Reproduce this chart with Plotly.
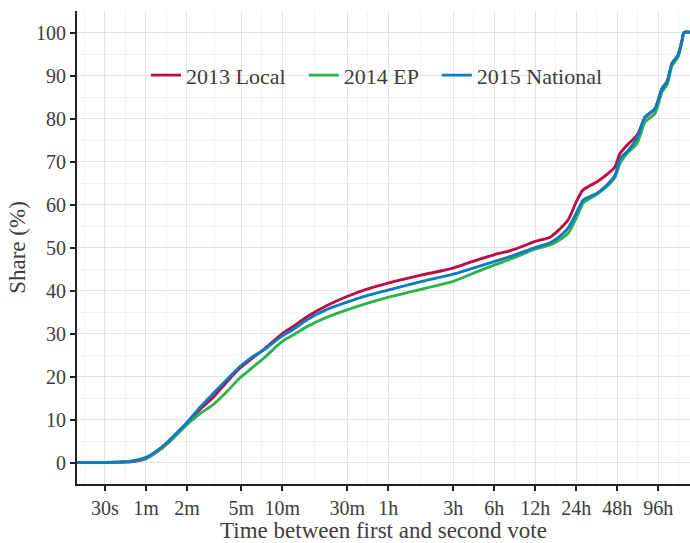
import plotly.graph_objects as go

# Time between first and second vote, in seconds (shared grid for all three elections)
seconds = [16.6, 30, 42, 50, 60, 71, 86, 101, 120, 149, 189, 236, 294, 360, 441,
           598, 745, 913, 1280, 1794, 2517, 3590, 6165, 10770, 15110, 21540, 30720,
           43080, 55530, 62490, 75270, 87600, 97000, 122900, 153100, 166600, 181300,
           204100, 241600, 276700, 327700, 368700, 401100, 436500, 483300, 517200,
           534900, 644100]

# Cumulative share of second votes (%)
local_2013 = [0, 0, 0.1, 0.3, 0.9, 2.3, 4.4, 6.6, 9.1, 12.3, 15.3, 18.8, 22.0, 24.2, 26.3,
              29.9, 31.9, 33.9, 36.5, 38.6, 40.3, 41.7, 43.5, 45.2, 46.8, 48.3, 49.6,
              51.4, 52.4, 53.7, 56.4, 61.0, 63.4, 65.3, 67.6, 68.8, 71.9,
              73.8, 76.1, 80.2, 82.3, 87.0, 88.5, 92.8, 94.7, 98.2,
              100, 100]
ep_2014 = [0, 0, 0.1, 0.4, 1.0, 2.4, 4.5, 6.5, 8.8, 11.3, 13.6, 16.5, 19.7, 22.0, 24.3,
           28.1, 29.9, 31.6, 33.8, 35.5, 37.0, 38.4, 40.2, 42.1, 44.0, 45.9, 47.7,
           49.6, 50.6, 51.4, 53.3, 57.2, 60.3, 62.4, 64.9, 66.4, 69.6,
           71.9, 74.2, 79.2, 81.2, 86.2, 87.8, 92.3, 94.3, 98.0,
           100, 100]
national_2015 = [0, 0, 0.2, 0.5, 1.2, 2.6, 4.7, 6.9, 9.3, 12.8, 16.2, 19.3, 22.3, 24.5, 26.2,
                 29.4, 31.2, 33.2, 35.6, 37.3, 38.8, 40.1, 42.0, 43.8, 45.2, 46.7, 48.3,
                 50.0, 51.1, 52.1, 54.5, 58.3, 61.0, 62.6, 65.3, 66.8, 70.7,
                 72.3, 75.4, 80.4, 82.3, 87.0, 88.5, 92.8, 94.7, 98.2,
                 100, 100]

series_names = ["2013 Local", "2014 EP", "2015 National"]
series_colors = ["#BF0A46", "#2DB24C", "#0B7CC4"]

tick_seconds = [30, 60, 120, 300, 600, 1800, 3600, 10800, 21600, 43200, 86400, 172800, 345600]
tick_labels = ["30s", "1m", "2m", "5m", "10m", "30m", "1h", "3h", "6h", "12h", "24h", "48h", "96h"]

# minor gridlines sit halfway (in log space) between neighbouring breaks
ext = [15] + tick_seconds + [691200]
minor_x = [(a * b) ** 0.5 for a, b in zip(ext[:-1], ext[1:])]

FONT = "Liberation Serif"
TEXT = "#3d3d3d"

# one legend box per series so the key entries are spaced like a ggplot key row
legend_ids = ["legend", "legend2", "legend3"]
legend_x = [0.1125, 0.370, 0.587]

fig = go.Figure()
for name, color, ys, lid in zip(series_names, series_colors,
                                [local_2013, ep_2014, national_2015], legend_ids):
    fig.add_trace(go.Scatter(
        x=seconds, y=ys, mode="lines", name=name, legend=lid,
        line=dict(color=color, width=2.9, shape="spline", smoothing=0.6),
    ))

legend_style = dict(
    orientation="h", xanchor="left", y=0.864, yanchor="middle",
    bgcolor="rgba(0,0,0,0)", font=dict(size=22, family=FONT, color=TEXT),
)

fig.update_layout(
    width=690, height=543,
    margin=dict(l=77, r=0, t=11, b=59),
    plot_bgcolor="white", paper_bgcolor="white",
    font=dict(family=FONT, color=TEXT, size=20),
    showlegend=True,
    legend=dict(x=legend_x[0], **legend_style),
    legend2=dict(x=legend_x[1], **legend_style),
    legend3=dict(x=legend_x[2], **legend_style),
)

fig.update_xaxes(
    type="log",
    range=[1.2718, 5.772],
    automargin=False,
    tickvals=tick_seconds, ticktext=tick_labels,
    tickfont=dict(size=20, family=FONT, color=TEXT),
    ticks="outside", ticklen=5, tickwidth=2, tickcolor="#222222",
    showline=True, linecolor="#222222", linewidth=2,
    showgrid=True, gridcolor="#e4e4e4", gridwidth=1.4,
    minor=dict(tickvals=minor_x, showgrid=True, gridcolor="#f3f3f3", gridwidth=1.2, ticks=""),
    zeroline=False,
    title=dict(text="Time between first and second vote",
               font=dict(size=23, family=FONT, color=TEXT), standoff=15),
)

fig.update_yaxes(
    range=[-5, 105],
    automargin=False,
    tickvals=[0, 10, 20, 30, 40, 50, 60, 70, 80, 90, 100],
    tickfont=dict(size=20, family=FONT, color=TEXT),
    ticks="outside", ticklen=5, tickwidth=2, tickcolor="#222222",
    showline=True, linecolor="#222222", linewidth=2,
    showgrid=True, gridcolor="#e4e4e4", gridwidth=1.4,
    minor=dict(tickvals=[5, 15, 25, 35, 45, 55, 65, 75, 85, 95], showgrid=True,
               gridcolor="#f3f3f3", gridwidth=1.2, ticks=""),
    zeroline=False,
    title=dict(text="Share (%)", font=dict(size=23, family=FONT, color=TEXT), standoff=4),
)

fig.write_html("out.html")
